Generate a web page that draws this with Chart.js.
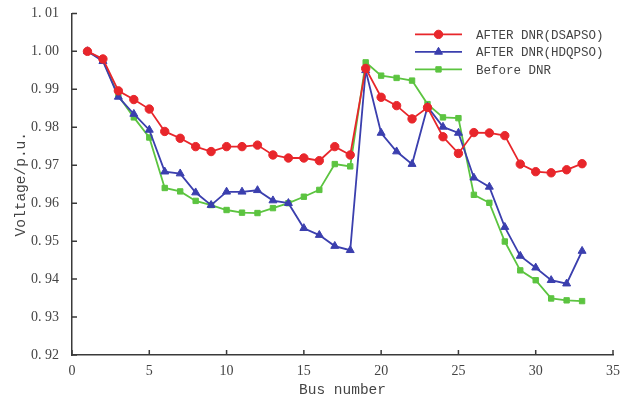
<!DOCTYPE html>
<html lang="en">
<head>
    <meta charset="UTF-8" />
    <title>Voltage profile</title>
    <script src="https://cdn.jsdelivr.net/npm/chart.js@4.4.1/dist/chart.umd.min.js"></script>
    <style>
        html, body { margin: 0; padding: 0; background: #fff; }
        #wrap { width: 623px; height: 399px; }
    </style>
</head>
<body>
    <div id="wrap"><canvas id="myChart" width="623" height="399"></canvas></div>

    <script>
        // data
        var buses = [1, 2, 3, 4, 5, 6, 7, 8, 9, 10, 11, 12, 13, 14, 15, 16, 17,
            18, 19, 20, 21, 22, 23, 24, 25, 26, 27, 28, 29, 30, 31, 32, 33];
        var dsapso = [1.0000, 0.9980, 0.9896, 0.9873, 0.9848, 0.9789, 0.9771, 0.9749, 0.9736, 0.9749, 0.9749,
            0.9753, 0.9727, 0.9719, 0.9719, 0.9712, 0.9749, 0.9727, 0.9955, 0.9879, 0.9857, 0.9822,
            0.9852, 0.9775, 0.9731, 0.9786, 0.9785, 0.9778, 0.9703, 0.9683, 0.9680, 0.9688, 0.9704];
        var hdqpso = [1.0000, 0.9974, 0.9880, 0.9835, 0.9793, 0.9683, 0.9678, 0.9628, 0.9595, 0.9630, 0.9630,
            0.9634, 0.9607, 0.9600, 0.9534, 0.9516, 0.9487, 0.9476, 0.9950, 0.9785, 0.9736, 0.9703,
            0.9854, 0.9801, 0.9785, 0.9667, 0.9643, 0.9537, 0.9461, 0.9430, 0.9397, 0.9388, 0.9474];
        var beforeDnr = [1.0000, 0.9977, 0.9883, 0.9826, 0.9773, 0.9640, 0.9631, 0.9606, 0.9595, 0.9582, 0.9575,
            0.9574, 0.9587, 0.9600, 0.9617, 0.9635, 0.9703, 0.9697, 0.9971, 0.9936, 0.9930, 0.9923,
            0.9861, 0.9826, 0.9824, 0.9622, 0.9601, 0.9499, 0.9423, 0.9397, 0.9349, 0.9344, 0.9342];
        var xTicks = [0, 5, 10, 15, 20, 25, 30, 35];
        var yTicks = [0.92, 0.93, 0.94, 0.95, 0.96, 0.97, 0.98, 0.99, 1.00, 1.01];

        function pts(vals) {
            return buses.map(function (b, i) { return { x: b, y: vals[i] }; });
        }

        var axisColor = '#3a3a3a';
        var tickFont = { family: 'Liberation Serif', size: 14 };
        var titleFont = { family: 'Liberation Mono', size: 14.5 };

        // ticks that point into the plot, like the original figure
        var inwardTicks = {
            id: 'inwardTicks',
            afterDraw: function (chart) {
                var ctx = chart.ctx, area = chart.chartArea;
                ctx.save();
                ctx.strokeStyle = axisColor;
                ctx.lineWidth = 1.5;
                ctx.beginPath();
                chart.scales.x.ticks.forEach(function (t) {
                    var px = chart.scales.x.getPixelForValue(t.value);
                    ctx.moveTo(px, area.bottom);
                    ctx.lineTo(px, area.bottom - 5);
                });
                chart.scales.y.ticks.forEach(function (t) {
                    var py = chart.scales.y.getPixelForValue(t.value);
                    ctx.moveTo(area.left, py);
                    ctx.lineTo(area.left + 5, py);
                });
                ctx.stroke();
                ctx.restore();
            }
        };

        // legend drawn inside the plot, line + marker per series
        var innerLegend = {
            id: 'innerLegend',
            afterDraw: function (chart) {
                var ctx = chart.ctx, area = chart.chartArea;
                var x0 = area.right - 198, y0 = area.top + 21;
                ctx.save();
                ctx.font = '12.5px "Liberation Mono"';
                ctx.textBaseline = 'middle';
                chart.data.datasets.forEach(function (ds, i) {
                    var y = y0 + i * 17.5;
                    ctx.strokeStyle = ds.borderColor;
                    ctx.fillStyle = ds.backgroundColor;
                    ctx.lineWidth = 1.8;
                    ctx.beginPath();
                    ctx.moveTo(x0, y);
                    ctx.lineTo(x0 + 47, y);
                    ctx.stroke();
                    ctx.lineWidth = 1;
                    Chart.helpers.drawPoint(ctx, {
                        pointStyle: ds.pointStyle, radius: ds.pointRadius,
                        borderWidth: 1, rotation: 0
                    }, x0 + 23.5, y);
                    ctx.fillStyle = '#444';
                    ctx.fillText(ds.label, x0 + 61, y + 1);
                });
                ctx.restore();
            }
        };

        function series(label, vals, color, style, r) {
            return {
                label: label,
                data: pts(vals),
                borderColor: color,
                backgroundColor: color,
                borderWidth: 1.8,
                pointStyle: style,
                pointRadius: r,
                pointBorderWidth: 1,
                tension: 0
            };
        }

        var ctx = document.getElementById('myChart').getContext('2d');
        var myChart = new Chart(ctx, {
            type: 'line',
            data: {
                datasets: [
                    series('AFTER DNR(DSAPSO)', dsapso, '#e8262b', 'circle', 4.2),
                    series('AFTER DNR(HDQPSO)', hdqpso, '#3b3fae', 'triangle', 4.6),
                    series('Before DNR', beforeDnr, '#5cc440', 'rect', 3.8)
                ]
            },
            options: {
                responsive: false,
                animation: false,
                layout: { padding: { top: 13, right: 10, left: 8, bottom: 0 } },
                plugins: { legend: { display: false }, tooltip: { enabled: false } },
                scales: {
                    x: {
                        type: 'linear',
                        min: 0, max: 35,
                        afterBuildTicks: function (s) { s.ticks = xTicks.map(function (v) { return { value: v }; }); },
                        afterFit: function (s) { s.height = 44; },
                        grid: { display: false },
                        border: { display: true, color: axisColor, width: 1.5 },
                        ticks: { color: '#444', font: tickFont, padding: 0, maxRotation: 0 },
                        title: { display: true, text: 'Bus number', color: '#444', font: titleFont, padding: { top: 0, bottom: 0 } }
                    },
                    y: {
                        min: 0.92, max: 1.01,
                        afterBuildTicks: function (s) { s.ticks = yTicks.map(function (v) { return { value: v }; }); },
                        afterFit: function (s) { s.width = 64; },
                        grid: { display: false },
                        border: { display: true, color: axisColor, width: 1.5 },
                        ticks: {
                            color: '#444', font: tickFont, padding: 5,
                            callback: function (v) { return v.toFixed(2).replace('.', '. '); }
                        },
                        title: { display: true, text: 'Voltage/p.u.', color: '#444', font: titleFont, padding: { bottom: 0 } }
                    }
                }
            },
            plugins: [inwardTicks, innerLegend]
        });
    </script>
</body>
</html>
